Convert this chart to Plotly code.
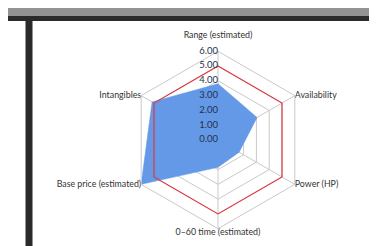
import plotly.graph_objects as go

categories = ["Range (estimated)", "Availability", "Power (HP)",
              "0–60 time (estimated)", "Base price (estimated)", "Intangibles"]
actual = [3.8, 3.05, 1.65, 1.85, 6.0, 5.15]
target = [5, 5, 5, 5, 5, 5]
tick_vals = [0, 1, 2, 3, 4, 5, 6]
tick_text = ["0.00", "1.00", "2.00", "3.00", "4.00", "5.00", "6.00"]

W, H = 377, 246
cx, cy, R = 210, 132, 88.7
label_positions = ["top center", "middle right", "middle right",
                   "bottom center", "middle left", "middle left"]
# the top label sits a line higher, clear of the "6.00" value label
label_texts = [c + "<br> " if p == "top center" else c
               for c, p in zip(categories, label_positions)]

fig = go.Figure()
fig.add_trace(go.Scatterpolar(
    r=actual + actual[:1], theta=categories + categories[:1],
    mode="lines", fill="toself", fillcolor="#6399e6",
    line=dict(color="#6399e6", width=0.5), hoverinfo="skip", showlegend=False))
fig.add_trace(go.Scatterpolar(
    r=target + target[:1], theta=categories + categories[:1],
    mode="lines", line=dict(color="#e0393e", width=1.2),
    hoverinfo="skip", showlegend=False))
# category labels at the outer ring
fig.add_trace(go.Scatterpolar(
    r=[tick_vals[-1]] * len(categories), theta=categories,
    mode="text", text=label_texts, textposition=label_positions,
    textfont=dict(size=8.8, color="#333333", family="Lato, Open Sans, sans-serif"),
    hoverinfo="skip", showlegend=False, cliponaxis=False))
# radial value labels on the vertical spoke (overlaid circular polar, same scale)
fig.add_trace(go.Scatterpolar(
    r=tick_vals, theta=[categories[0]] * len(tick_vals), subplot="polar2",
    mode="text", text=tick_text, textposition="middle left",
    textfont=dict(size=9.5, color="#26324a", family="Lato, Open Sans, sans-serif"),
    hoverinfo="skip", showlegend=False, cliponaxis=False))

domain = dict(x=[(cx - R) / W, (cx + R) / W], y=[(H - cy - R) / H, (H - cy + R) / H])

fig.update_layout(
    width=W, height=H, margin=dict(l=0, r=0, t=0, b=0),
    paper_bgcolor="white", plot_bgcolor="white",
    font=dict(family="Lato, Open Sans, sans-serif", color="#333333"),
    polar=dict(
        domain=domain,
        bgcolor="white",
        gridshape="linear",
        radialaxis=dict(range=[0, 6], tickvals=tick_vals, showticklabels=False,
                        angle=90, showline=False, ticks="",
                        gridcolor="#c9c9c9", gridwidth=1),
        angularaxis=dict(direction="clockwise", rotation=90, showticklabels=False,
                         showline=True, linecolor="#c9c9c9", linewidth=1,
                         gridcolor="#c9c9c9", ticks=""),
    ),
    polar2=dict(
        domain=domain,
        bgcolor="rgba(0,0,0,0)",
        radialaxis=dict(range=[0, 6], visible=False, angle=90),
        angularaxis=dict(direction="clockwise", rotation=90, visible=False,
                         categoryorder="array", categoryarray=categories),
    ),
    shapes=[
        dict(type="rect", xref="paper", yref="paper", x0=0, x1=1,
             y0=1 - 8 / H, y1=1, fillcolor="#939393", line=dict(width=0), layer="below"),
        dict(type="rect", xref="paper", yref="paper", x0=0, x1=1,
             y0=1 - 13 / H, y1=1 - 8 / H, fillcolor="#2b2b2b", line=dict(width=0), layer="below"),
        dict(type="rect", xref="paper", yref="paper", x0=17.5 / W, x1=24.5 / W,
             y0=0, y1=1 - 13 / H, fillcolor="#2b2b2b", line=dict(width=0), layer="below"),
    ],
    annotations=[dict(text="GT-Bolt", xref="paper", yref="paper", x=36 / W, y=1 + 12 / H,
                      xanchor="left", yanchor="middle", showarrow=False,
                      font=dict(size=26, color="#111111", family="Lato, sans-serif"))],
)

fig.write_html("out.html")
